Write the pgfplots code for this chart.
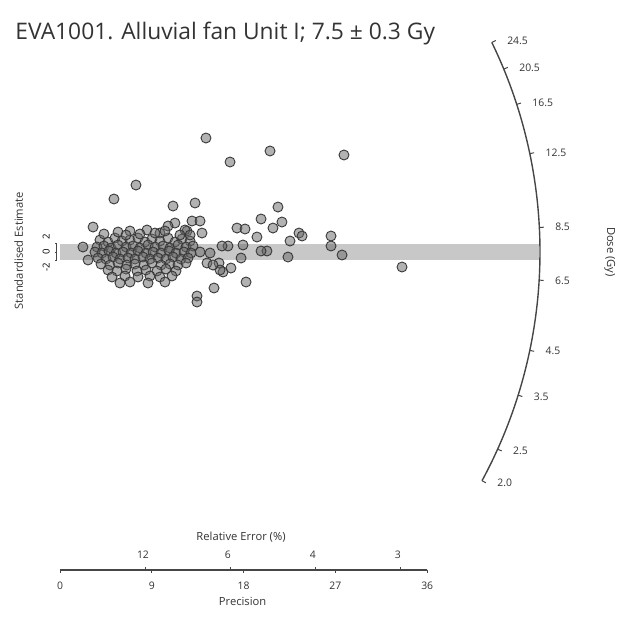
\documentclass[border=0pt]{standalone}
\usepackage{pgfplots}
\pgfplotsset{compat=1.18}
\usepackage{pgfplotstable}
\usepackage{fontspec}
\setmainfont{Open Sans}

% precision (1/sigma)  standardised estimate (z)
\pgfplotstableread{
x z
14.31 27.14
20.59 24.05
27.84 23.10
16.67 21.43
7.45 15.95
5.29 12.62
11.08 10.95
13.24 11.67
21.37 10.71
3.24 5.95
19.71 7.86
21.76 7.14
20.88 5.71
23.43 4.52
23.73 3.81
26.57 3.81
26.57 1.43
27.65 -0.71
22.35 -1.19
22.55 2.62
20.29 0.24
19.71 0.24
19.31 3.57
17.94 1.67
17.75 -1.43
17.35 5.71
18.14 5.48
18.24 -7.14
15.10 -8.57
13.43 -10.48
13.43 -11.90
16.47 1.43
15.88 1.43
15.98 -4.76
16.76 -3.81
15.59 -2.62
14.71 -0.24
14.41 -2.62
13.73 0.00
13.92 4.52
12.94 7.38
13.73 7.38
12.45 5.00
11.27 6.90
6.86 5.00
8.53 5.24
33.53 -3.57
2.25 1.19
2.75 -1.90
9.80 4.52
12.25 5.24
10.59 6.19
15.69 -4.29
15.00 -3.10
3.92 2.86
4.71 2.38
5.39 3.33
6.08 2.62
6.86 2.86
7.65 3.33
8.33 2.38
9.02 3.10
9.80 2.62
10.59 3.33
11.27 2.38
11.96 3.10
12.75 2.62
3.63 1.19
4.31 1.43
5.00 0.95
5.69 1.67
6.47 1.19
7.16 1.43
7.84 0.95
8.63 1.67
9.31 1.19
10.10 1.43
10.78 0.95
11.57 1.67
12.35 1.19
13.04 1.43
3.43 0.00
4.12 -0.24
4.80 0.24
5.49 -0.24
6.18 0.00
6.96 -0.24
7.65 0.24
8.43 -0.24
9.12 0.00
9.90 -0.24
10.69 0.24
11.37 -0.24
12.16 0.00
12.84 -0.24
3.73 -1.43
4.51 -1.67
5.20 -1.19
5.88 -1.67
6.67 -1.43
7.35 -1.67
8.14 -1.19
8.82 -1.67
9.61 -1.43
10.39 -1.67
11.08 -1.19
11.86 -1.67
12.55 -1.43
4.02 -2.86
4.90 -3.10
5.69 -2.62
6.57 -3.10
7.35 -2.86
8.24 -3.10
9.02 -2.62
9.90 -3.10
10.78 -2.86
11.57 -3.10
12.35 -2.62
4.71 -4.29
5.59 -4.52
6.47 -4.05
7.55 -4.52
8.43 -4.29
9.51 -4.52
10.39 -4.05
11.37 -4.52
5.10 -5.95
6.37 -5.71
7.65 -5.95
8.82 -5.71
9.80 -5.95
10.98 -5.71
4.31 4.29
5.69 4.76
6.47 4.05
7.84 4.29
9.31 4.52
10.29 5.00
11.76 4.05
12.75 4.05
6.86 -7.14
8.63 -7.38
10.29 -7.14
5.88 -7.38
}\radialdata

\definecolor{bandgray}{RGB}{200,200,200}
\definecolor{axgray}{RGB}{70,70,70}

\begin{document}
\begin{tikzpicture}
\begin{axis}[
  scale only axis,
  x=5.1pt, y=2.1pt,
  xmin=-5.882, xmax=56.078, ymin=-88.33, ymax=60,
  hide axis, clip=false,
]
% 2-sigma band
\fill[bandgray] (axis cs:0,-2) rectangle (axis cs:47.0,2);

% data
\addplot[only marks, mark=*, mark size=2.5pt,
  mark options={draw=black!78, fill=black!60, fill opacity=0.5, line width=0.45pt}]
  table[x=x, y=z] {\radialdata};

% z axis
\draw[axgray, line width=0.5pt] (axis cs:-0.3,-2) -- (axis cs:-0.3,2);
\pgfplotsinvokeforeach{-2,0,2}{
  \draw[axgray, line width=0.4pt] (axis cs:-0.3,#1) -- ++(-1.2pt,0pt);
}
\node[rotate=90, font=\fontsize{4.8}{6}\selectfont, inner sep=0pt] at (axis cs:-1.35,3.6) {2};
\node[rotate=90, font=\fontsize{4.8}{6}\selectfont, inner sep=0pt] at (axis cs:-1.35,0) {0};
\node[rotate=90, font=\fontsize{4.8}{6}\selectfont, inner sep=0pt] at (axis cs:-1.35,-3.6) {-2};
\node[rotate=90, font=\fontsize{5.6}{7}\selectfont, inner sep=0pt, text=black!80] at (axis cs:-4.05,0.3) {Standardised Estimate};

% dose arc
\draw[axgray, line width=0.7pt] (axis cs:0,0) ++(-28.45:240pt) arc[start angle=-28.45, end angle=25.89, radius=240pt];
\pgfplotsinvokeforeach{2.0,2.5,3.5,4.5,6.5,8.5,12.5,16.5,20.5,24.5}{
  \draw[axgray, line width=0.5pt] (axis cs:0,0) ++({atan(0.41*ln(#1/7.5))}:240pt) -- ++({atan(0.41*ln(#1/7.5))}:2.2pt)
    node[anchor=west, inner sep=0pt, xshift=5.5pt, font=\fontsize{5.2}{6}\selectfont, text=black!80] {#1};
}
\node[rotate=-90, font=\fontsize{5.6}{7}\selectfont, inner sep=0pt, text=black!80] at (axis cs:53.9,0) {Dose (Gy)};

% precision / relative error axis
\draw[axgray, line width=0.6pt] (axis cs:0,-75.7) -- (axis cs:36,-75.7);
\pgfplotsinvokeforeach{0,9,18,27,36}{
  \draw[axgray, line width=0.4pt] (axis cs:#1,-75.7) -- ++(0pt,-1.3pt);
  \node[font=\fontsize{5.2}{6}\selectfont, inner sep=0pt, text=black!80] at (axis cs:#1,-79.4) {#1};
}
\pgfplotsinvokeforeach{8.333,16.667,25,33.333}{
  \draw[axgray, line width=0.4pt] (axis cs:#1,-75.7) -- ++(0pt,1.3pt);
}
\node[font=\fontsize{5.2}{6}\selectfont, inner sep=0pt, text=black!80] at (axis cs:8.133,-72.1) {12};
\node[font=\fontsize{5.2}{6}\selectfont, inner sep=0pt, text=black!80] at (axis cs:16.467,-72.1) {6};
\node[font=\fontsize{5.2}{6}\selectfont, inner sep=0pt, text=black!80] at (axis cs:24.8,-72.1) {4};
\node[font=\fontsize{5.2}{6}\selectfont, inner sep=0pt, text=black!80] at (axis cs:33.133,-72.1) {3};
\node[font=\fontsize{5.6}{7}\selectfont, inner sep=0pt, text=black!80] at (axis cs:17.75,-67.9) {Relative Error (\%)};
\node[font=\fontsize{5.6}{7}\selectfont, inner sep=0pt, text=black!80] at (axis cs:17.9,-83.3) {Precision};

% title
\node[anchor=west, inner sep=0pt, font=\fontsize{11.4}{13}\selectfont, text=black!80] at (axis cs:-4.41,52.1) {EVA1001. Alluvial fan Unit I; 7.5 ± 0.3 Gy};
\end{axis}
\pgfresetboundingbox
\path (current axis.south west) rectangle (current axis.north east);
\end{tikzpicture}
\end{document}
